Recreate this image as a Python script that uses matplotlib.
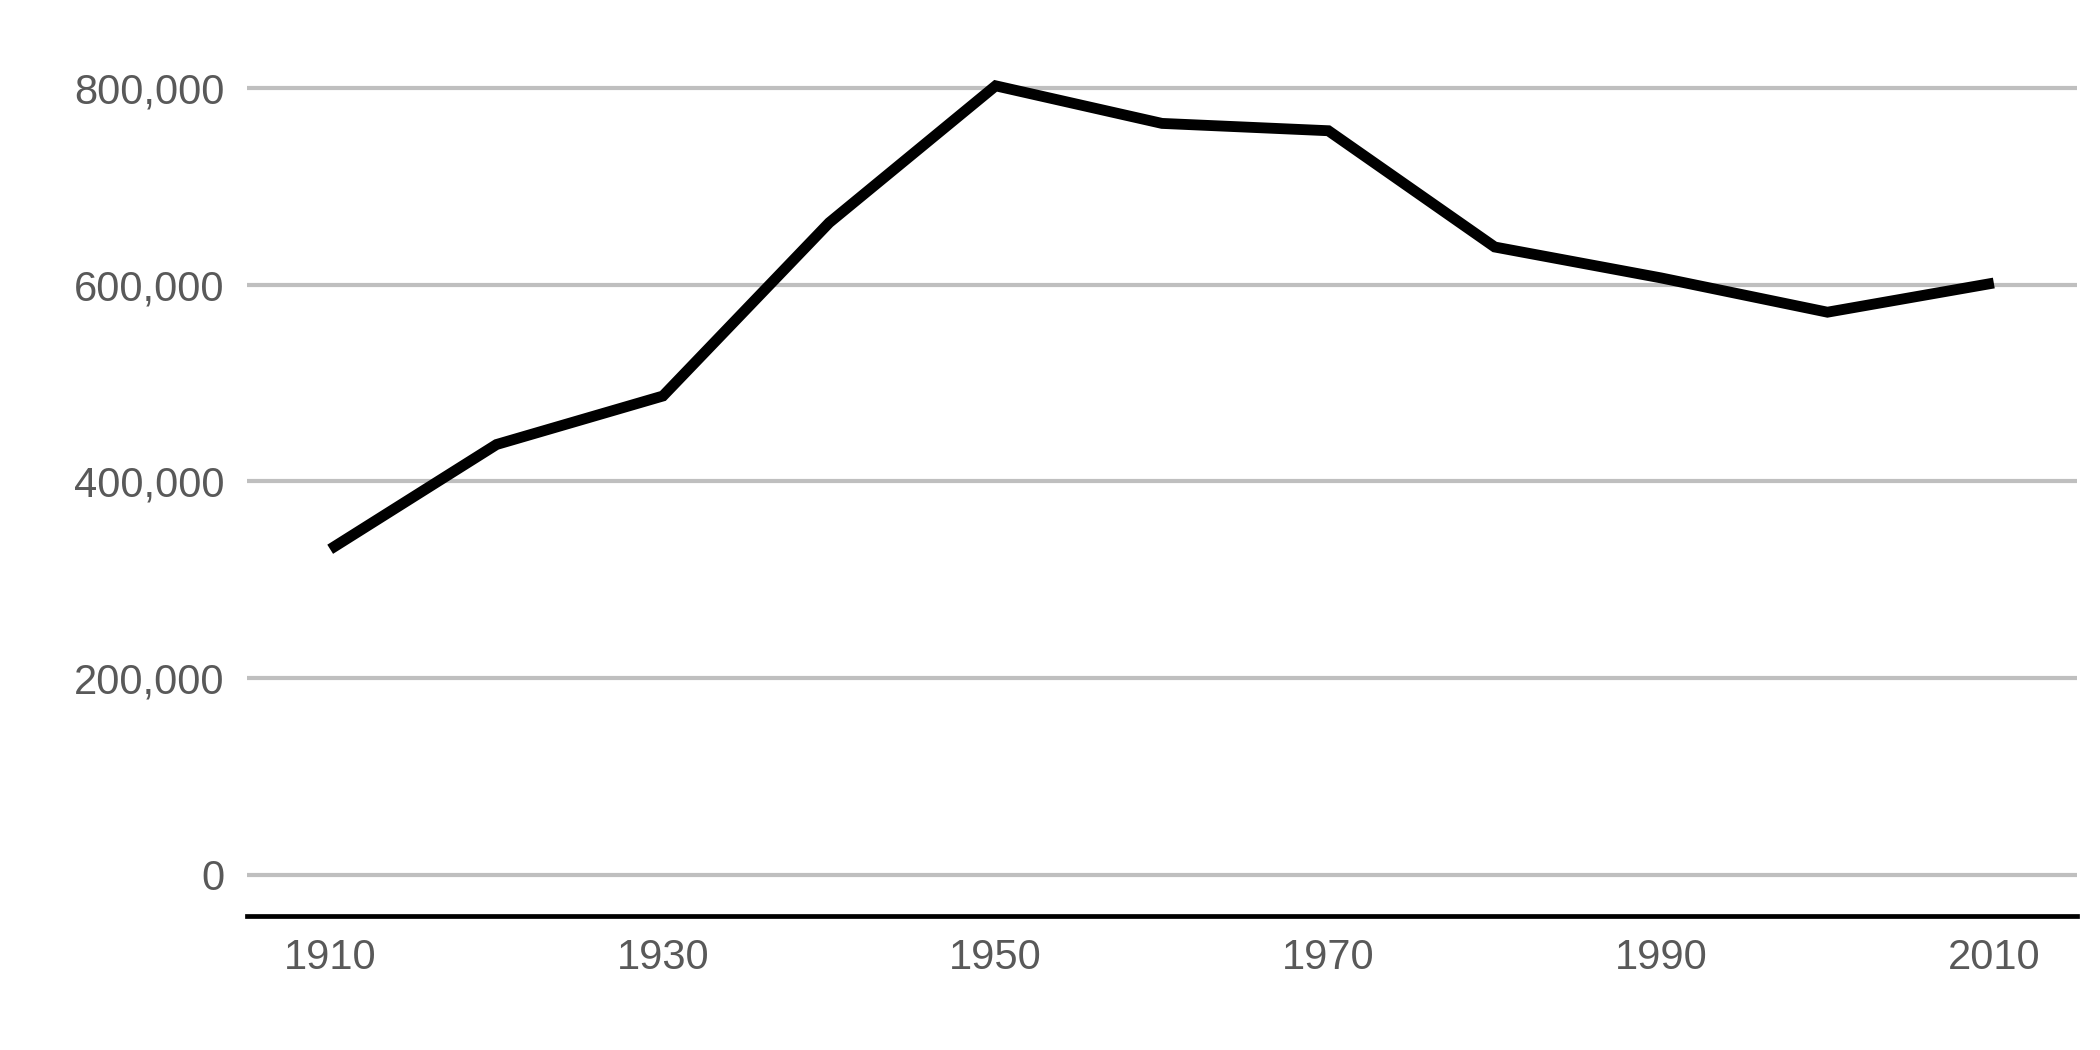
import matplotlib
matplotlib.use('Agg')
from matplotlib import pyplot as plt
from matplotlib.ticker import FuncFormatter

# census years and population
years = [1910, 1920, 1930, 1940, 1950, 1960, 1970, 1980, 1990, 2000, 2010]
population = [331069, 437571, 486869, 663091, 802178, 763956,
              756510, 638333, 606900, 572059, 601723]
xtick_years = [1910, 1930, 1950, 1970, 1990, 2010]
ytick_vals = [0, 200000, 400000, 600000, 800000]

plt.rcParams['font.family'] = ['Liberation Sans', 'DejaVu Sans']

fig = plt.figure(figsize=(21, 10.5), dpi=100)
ax = fig.add_axes([247/2100, 1 - 916/1050, (2077-247)/2100, 867.4/1050])

ax.plot(years, population, color='black', linewidth=7.8,
        solid_joinstyle='miter', solid_capstyle='butt', zorder=3)

ax.set_xlim(1905, 2015)
ax.set_ylim(-41700, 840000)
ax.set_xticks(xtick_years)
ax.set_yticks(ytick_vals)
ax.yaxis.set_major_formatter(FuncFormatter(lambda v, p: f'{int(v):,}'))

ax.grid(axis='y', color='#bfbfbf', linewidth=3)
ax.set_axisbelow(True)
for side in ['top', 'right', 'left']:
    ax.spines[side].set_visible(False)
ax.spines['bottom'].set_linewidth(3.4)
ax.spines['bottom'].set_color('black')

ax.tick_params(axis='both', length=0, labelsize=30, labelcolor='#595959')
ax.tick_params(axis='y', pad=16)
ax.tick_params(axis='x', pad=16)

fig.savefig('out.png', dpi=100, facecolor='white')
